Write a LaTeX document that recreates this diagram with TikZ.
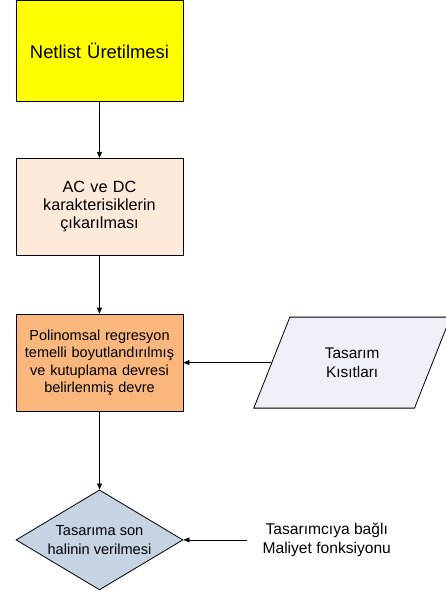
\documentclass[tikz,border=0pt]{standalone}
\usepackage{fontspec}
\setmainfont{Liberation Sans}
\usepackage{tikz}
\usetikzlibrary{positioning,arrows.meta,shapes.geometric}

\definecolor{sari}{HTML}{FFFF00}
\definecolor{acikturuncu}{HTML}{FDEADA}
\definecolor{turuncu}{HTML}{F9B77E}
\definecolor{acikgri}{HTML}{EDF0F6}
\definecolor{mavigri}{HTML}{C5D3E3}

\begin{document}
\begin{tikzpicture}[
  x=1pt, y=-1pt,
  box/.style={draw, line width=0.8pt, align=center, text width=155pt, minimum width=167pt, minimum height=97pt, inner sep=0pt, font=\fontsize{14.5}{17.4}\selectfont},
  girdi/.style={draw, line width=0.8pt, trapezium, trapezium left angle=64, trapezium right angle=116, trapezium stretches=true, minimum width=197pt, minimum height=91pt, fill=acikgri, align=center, font=\fontsize{15.4}{19}\selectfont},
  karar/.style={draw, line width=0.8pt, diamond, shape aspect=1.67, minimum width=167pt, minimum height=100pt, inner sep=0pt, fill=mavigri, align=center, font=\fontsize{14.6}{19}\selectfont},
  arr/.style={-{Triangle[length=6pt,width=5pt]}, line width=0.8pt},
]
\useasboundingbox (0,0) rectangle (446,592);

\node[box, fill=sari, minimum height=101pt, font=\fontsize{18.4}{22}\selectfont] (netlist) at (99.5,51) {Netlist Üretilmesi};
\node[box, fill=acikturuncu, below=56pt of netlist, font=\fontsize{16.2}{18}\selectfont] (acdc) {AC ve DC\\karakterisiklerin\\çıkarılması};
\node[box, fill=turuncu, below=58pt of acdc] (devre) {Polinomsal regresyon\\temelli boyutlandırılmış\\ve kutuplama devresi\\belirlenmiş devre};
\node[girdi, right=88pt of devre] (kisit) {Tasarım\\Kısıtları};
\node[karar, below=78pt of devre] (son) {Tasarıma son\\halinin verilmesi};
\node[align=center, inner xsep=0pt, font=\fontsize{15.6}{19}\selectfont, right=79pt of son] (maliyet) {Tasarımcıya bağlı\\Maliyet fonksiyonu};

\draw[arr] (netlist) -- (acdc);
\draw[arr] (acdc) -- (devre);
\draw[arr] (kisit.west) -- (devre.east);
\draw[arr] (devre) -- (son);
\draw[arr] ([xshift=-15pt]maliyet.west) -- (son.east);
\end{tikzpicture}
\end{document}
